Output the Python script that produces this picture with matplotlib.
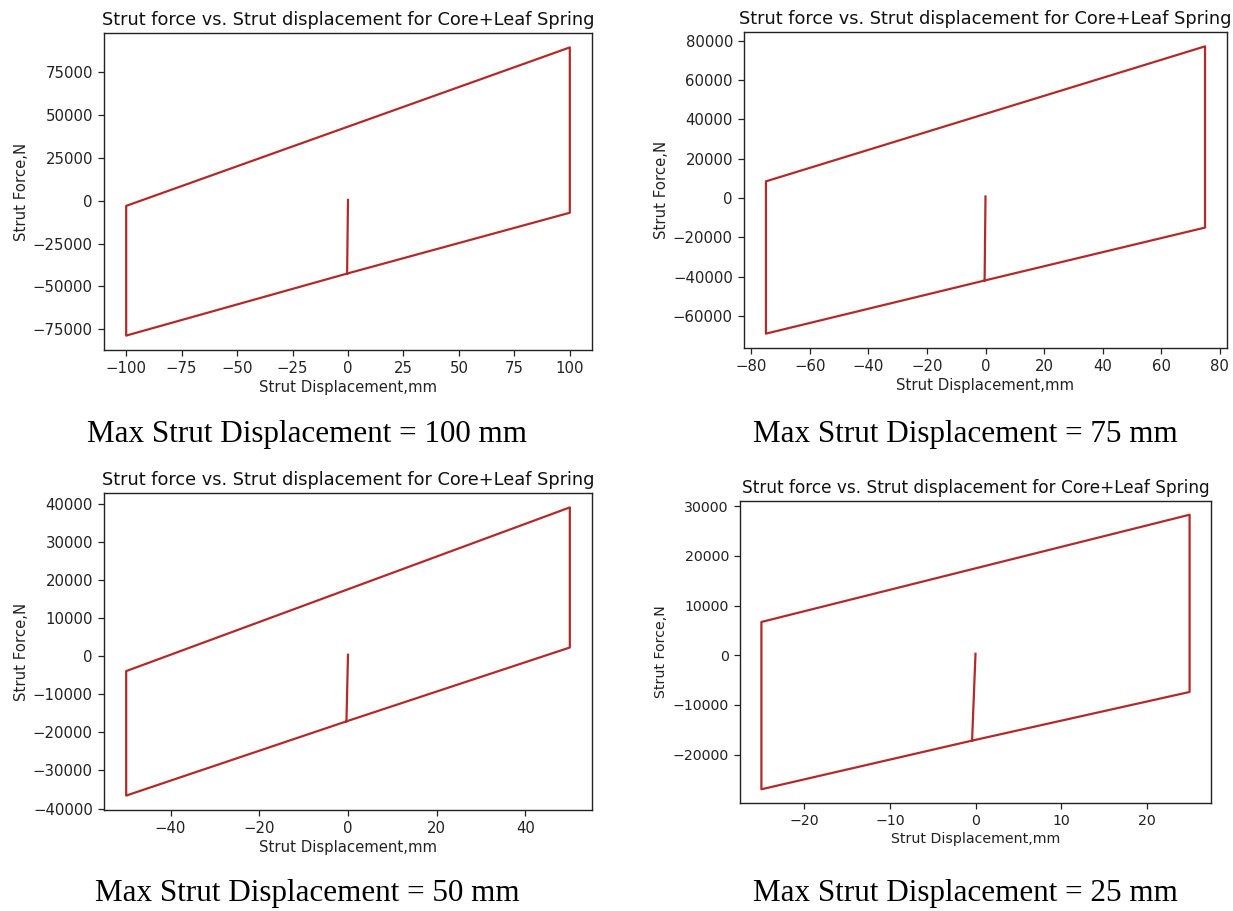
import matplotlib
matplotlib.use("Agg")
import matplotlib.pyplot as plt

W, H = 1233, 911

title_text = "Strut force vs. Strut displacement for Core+Leaf Spring"
xlabel_text = "Strut Displacement,mm"
ylabel_text = "Strut Force,N"
line_color = "#b22a2a"

# ---- data ----
disp_100 = [0, -0.4, 100, 100, -100, -100, -0.4]
force_100 = [500, -42500, -7000, 89500, -3000, -78700, -42500]
xticks_100 = [-100, -75, -50, -25, 0, 25, 50, 75, 100]
caption_100 = "Max Strut Displacement = 100 mm"

disp_75 = [0, -0.3, 75, 75, -75, -75, -0.3]
force_75 = [800, -41900, -15000, 77100, 8500, -68900, -41900]
xticks_75 = [-80, -60, -40, -20, 0, 20, 40, 60, 80]
caption_75 = "Max Strut Displacement = 75 mm"

disp_50 = [0, -0.35, 50, 50, -50, -50, -0.35]
force_50 = [400, -17100, 2300, 39100, -3900, -36600, -17100]
xticks_50 = [-40, -20, 0, 20, 40]
caption_50 = "Max Strut Displacement = 50 mm"

disp_25 = [0, -0.4, 25, 25, -25, -25, -0.4]
force_25 = [300, -17200, -7400, 28300, 6700, -27000, -17200]
xticks_25 = [-20, -10, 0, 10, 20]
caption_25 = "Max Strut Displacement = 25 mm"

panels = [
    # (x, y, rect in px: left, top, right, bottom, caption center, font scale)
    (disp_100, force_100, xticks_100, caption_100, (104, 33, 592, 350), (307, 434), 1.0),
    (disp_75, force_75, xticks_75, caption_75, (744, 32, 1227, 348), (965, 434), 1.0),
    (disp_50, force_50, xticks_50, caption_50, (104, 493, 592, 810), (307, 894), 1.0),
    (disp_25, force_25, xticks_25, caption_25, (740, 501, 1211, 803), (965, 894), 0.95),
]

fig = plt.figure(figsize=(W / 100, H / 100), dpi=100)
fig.patch.set_facecolor("white")

for xs, ys, xt, cap, (l, t, r, b), (cx, cy), s in panels:
    ax = fig.add_axes([l / W, 1 - b / H, (r - l) / W, (b - t) / H])
    ax.plot(xs, ys, color=line_color, lw=1.6)
    ax.set_xticks(xt)
    ax.tick_params(labelsize=10.7 * s, length=4.5, width=0.9, colors="#222222")
    ax.set_title(title_text, fontsize=12.8 * s, pad=5.5, color="#111111")
    ax.set_xlabel(xlabel_text, fontsize=10.7 * s, labelpad=3, color="#222222")
    ax.set_ylabel(ylabel_text, fontsize=10.7 * s, labelpad=3, color="#222222")
    for sp in ax.spines.values():
        sp.set_linewidth(1.0)
        sp.set_color("#222222")
    fig.text(cx / W, 1 - cy / H, cap, ha="center", va="center",
             fontsize=22.4, family=["Liberation Serif", "DejaVu Serif"], color="black")

fig.savefig("out.png", dpi=100)
